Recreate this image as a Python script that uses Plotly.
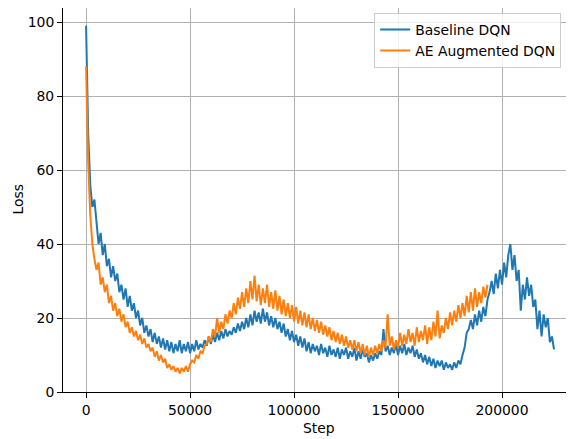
import plotly.graph_objects as go

baseline_loss = [
    99, 70, 56, 50, 52, 46, 40, 43, 37, 40,
    34, 36, 31, 34, 30, 32, 27, 29, 25, 28,
    23, 26, 22, 24, 20, 22, 18, 20, 16, 18,
    15, 17, 13.5, 16, 13, 15, 12, 14.5, 11.5, 14,
    11, 13.5, 10.5, 13, 11, 14, 10.5, 13, 11, 13.5,
    10.5, 13, 11, 14, 11.5, 13, 12, 14, 12.5, 15,
    13, 15.5, 13.5, 16, 14, 16.5, 14.5, 17, 15, 16.5,
    15.5, 17.5, 16, 18.5, 16.5, 19, 17, 20, 17.5, 21,
    18, 22, 19, 21.5, 18.5, 22.5, 19, 21.5, 18, 20.5,
    17.5, 20, 17, 19, 16, 18.5, 15, 17, 14, 16.5,
    13.5, 15.5, 12.5, 15, 12, 14.5, 11, 13.5, 10.5, 13,
    11, 12.5, 10, 13, 10.5, 12, 9.5, 12.5, 10, 11.5,
    9.5, 12, 9, 11.5, 10, 12, 9, 11, 9.5, 12,
    8.5, 11, 9, 11.5, 9.5, 10.5, 8, 10, 8.5, 10.5,
    9, 11, 10, 17, 11, 12.5, 10, 12, 10.5, 13,
    10, 12.5, 10.5, 13, 10, 12, 10.5, 12.5, 9.5, 11.5,
    9, 10.5, 8, 10, 7.5, 9.5, 7, 9, 6.5, 8.5,
    7, 8.5, 6, 8, 6.5, 7.5, 6, 8, 6.5, 8.5,
    7.5, 10, 12, 16, 17, 19.5, 17, 21, 18, 22,
    19, 23, 20.5, 25, 27, 30, 26.5, 32, 28, 33,
    29, 35, 31, 37, 40, 33, 37, 30, 33, 22,
    29, 25, 31, 26, 29, 23, 25, 17, 22, 15,
    21, 17.5, 20, 13.5, 15, 11.5,
]

# AE Augmented DQN loss, sampled every 1000 steps
ae_loss = [
    88, 62, 48, 40, 36, 33, 35, 29, 31, 27,
    29, 24, 26, 22, 24, 20.5, 22.5, 19, 21, 17.5,
    19, 16, 17.5, 15, 16.5, 14, 15.5, 13, 14.5, 12,
    13, 11, 12, 9.5, 11, 8.5, 10, 8, 9, 6.5,
    7.5, 6, 7, 5.5, 6.5, 5, 6.5, 5.5, 7, 5.5,
    7.5, 8.5, 8, 10, 9, 11, 10.5, 12.5, 13, 15,
    13.5, 17, 15, 20, 16, 19, 17, 21, 18.5, 22,
    20, 24, 21, 25.5, 22.5, 27, 23, 28, 24, 30,
    25, 31.5, 24.5, 29, 23.5, 28, 24, 29, 23, 27,
    22.5, 27.5, 22, 26, 21, 25, 20.5, 24, 20, 23.5,
    19, 23, 18.5, 22, 18, 21.5, 17.5, 21, 17, 20,
    16.5, 19.5, 16, 19, 15.5, 18, 15, 17.5, 14, 16.5,
    13.5, 16, 13, 15.5, 12.5, 15, 12, 14, 11.5, 14,
    11, 13.5, 10.5, 13, 10, 12.5, 9.5, 12, 10, 12.5,
    10.5, 13, 11, 14, 12, 21, 12.5, 15, 11.5, 14,
    12, 16, 12.5, 15.5, 13, 17, 13.5, 16, 12.5, 17.5,
    13.5, 16.5, 14, 18, 13, 17.5, 14, 19, 15, 22,
    14.5, 18, 16, 20, 17, 21.5, 18, 22, 19, 23.5,
    20, 24, 20.5, 26, 21.5, 27, 22, 28, 23, 27,
    24, 28.5, 25.5, 29,
]

baseline_steps = list(range(0, 1000 * len(baseline_loss), 1000))
ae_steps = list(range(0, 1000 * len(ae_loss), 1000))

x_ticks = [0, 50000, 100000, 150000, 200000]
y_ticks = [0, 20, 40, 60, 80, 100]

FONT = "DejaVu Sans"
FS = 13.9

fig = go.Figure()
fig.add_trace(go.Scatter(x=baseline_steps, y=baseline_loss, mode="lines",
                         name="Baseline DQN",
                         line=dict(color="#1f77b4", width=2)))
fig.add_trace(go.Scatter(x=ae_steps, y=ae_loss, mode="lines",
                         name="AE Augmented DQN",
                         line=dict(color="#ff7f0e", width=2)))

axis_common = dict(
    showgrid=True, gridcolor="#b0b0b0", gridwidth=1,
    showline=True, linecolor="black", linewidth=1, mirror=True,
    ticks="outside", ticklen=5, tickcolor="black", tickwidth=1,
    zeroline=False, automargin=False,
    tickfont=dict(family=FONT, size=FS, color="black"),
)

fig.update_layout(
    width=566, height=431,
    margin=dict(l=55, r=0, t=0, b=47),
    paper_bgcolor="white", plot_bgcolor="white",
    font=dict(family=FONT, size=FS, color="black"),
    showlegend=True,
    legend=dict(
        x=0.609, y=0.987, xanchor="left", yanchor="top",
        bgcolor="rgba(255,255,255,0.8)", bordercolor="#cccccc", borderwidth=1,
        font=dict(family=FONT, size=FS, color="black"),
        itemwidth=30,
    ),
    xaxis=dict(
        range=[-11100, 234600],
        tickvals=x_ticks, ticktext=[str(v) for v in x_ticks],
        **axis_common,
    ),
    yaxis=dict(
        range=[0, 103.8],
        tickvals=y_ticks, ticktext=[str(v) for v in y_ticks],
        **axis_common,
    ),
    annotations=[
        dict(text="Step", xref="paper", yref="paper", x=0.5, y=-0.094,
             xanchor="center", yanchor="middle", showarrow=False,
             font=dict(family=FONT, size=FS, color="black")),
        dict(text="Loss", xref="paper", yref="paper", x=-0.089, y=0.5,
             xanchor="center", yanchor="middle", showarrow=False, textangle=-90,
             borderpad=0,
             font=dict(family=FONT, size=FS, color="black")),
    ],
)

fig.write_html("out.html")
